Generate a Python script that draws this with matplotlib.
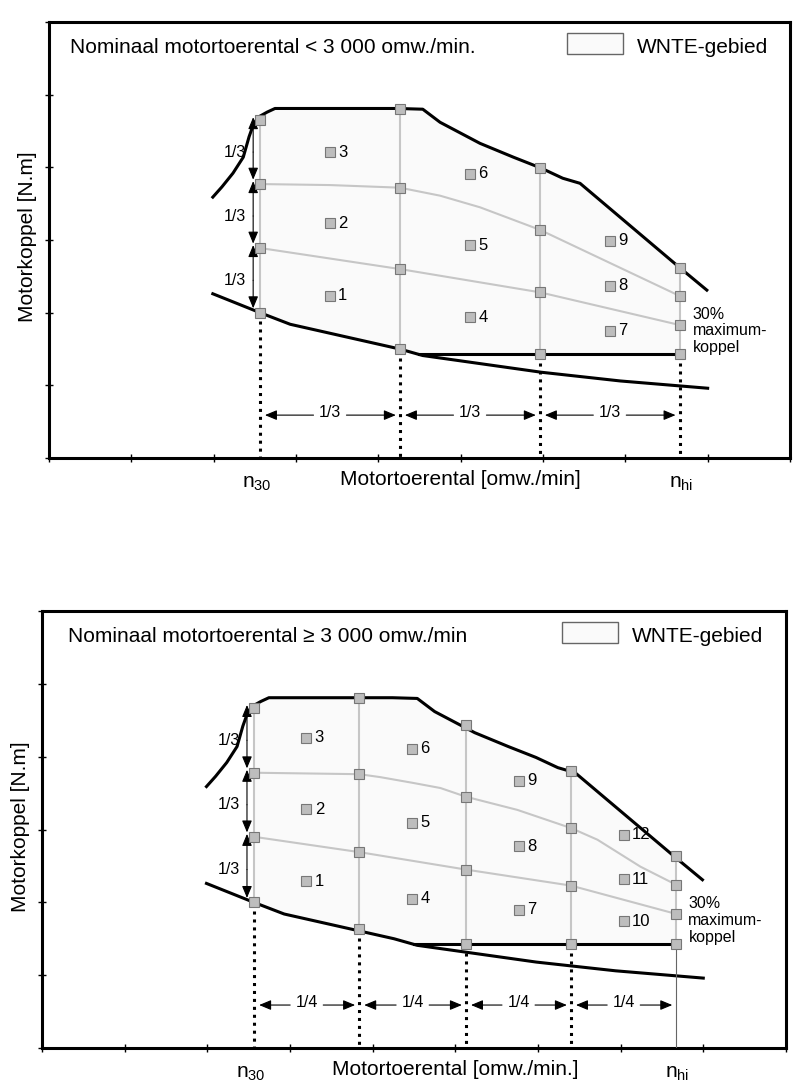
import numpy as np
import matplotlib.pyplot as plt

plt.rcParams['font.family'] = ['Liberation Sans', 'DejaVu Sans']

# shared curves (same shape in both panels)
upper_x = [1.99, 2.10, 2.235, 2.36, 2.43, 2.48, 2.54, 2.65, 2.745, 4.24, 4.54, 4.75, 5.235, 5.64, 5.976, 6.24, 6.45, 7.66, 7.99]
upper_y = [3.59, 3.73, 3.92, 4.14, 4.42, 4.58, 4.69, 4.76, 4.81, 4.81, 4.80, 4.62, 4.33, 4.14, 3.99, 3.85, 3.78, 2.62, 2.31]
lower_x = [1.99, 2.563, 2.93, 4.26, 4.54, 5.98, 6.94, 8.0]
lower_y = [2.26, 2.00, 1.84, 1.50, 1.41, 1.18, 1.06, 0.96]
pct30 = 1.43
knee_x = 4.5

# top panel (< 3000 rpm)
t_cols = [2.563, 4.263, 5.963, 7.66]
t_row0 = [2.00, 1.50, 1.43, 1.43]
t_row1 = [2.89, 2.60, 2.28, 1.83]
t_row2 = [3.77, 3.72, 3.14, 2.23]
t_row3 = [4.65, 4.80, 3.99, 2.62]
t_mid2_x = [2.563, 3.413, 4.263, 4.75, 5.235, 5.963, 7.66]
t_mid2_y = [3.77, 3.756, 3.72, 3.61, 3.45, 3.14, 2.23]
t_mode_x = [3.413, 3.413, 3.413, 5.113, 5.113, 5.113, 6.81, 6.81, 6.81]
t_mode_y = [2.23, 3.23, 4.21, 1.94, 2.93, 3.91, 1.75, 2.37, 2.99]
t_mode_lbl = ['1', '2', '3', '4', '5', '6', '7', '8', '9']

# bottom panel (>= 3000 rpm)
b_cols = [2.567, 3.838, 5.13, 6.40, 7.675]
b_row0 = [2.00, 1.63, 1.43, 1.43, 1.43]
b_row1 = [2.90, 2.69, 2.45, 2.23, 1.84]
b_row2 = [3.78, 3.76, 3.45, 3.02, 2.24]
b_row3 = [4.67, 4.81, 4.44, 3.80, 2.64]
b_mid2_x = [2.567, 3.838, 4.09, 4.49, 4.82, 5.13, 5.75, 6.40, 6.72, 7.24, 7.675]
b_mid2_y = [3.78, 3.76, 3.72, 3.64, 3.57, 3.45, 3.27, 3.02, 2.86, 2.49, 2.24]
b_mode_x = [3.20]*3 + [4.48]*3 + [5.765]*3 + [7.04]*3
b_mode_y = [2.29, 3.28, 4.26, 2.05, 3.09, 4.11, 1.90, 2.77, 3.67, 1.74, 2.32, 2.93]
b_mode_lbl = ['1', '2', '3', '4', '5', '6', '7', '8', '9', '10', '11', '12']

GRAY = '#c6c6c6'
MFC = '#bdbdbd'
MEC = '#777777'
AREA = '#fafafa'


def arrow(ax, x0, y0, x1, y1, style='-|>'):
    ax.annotate('', xy=(x1, y1), xytext=(x0, y0),
                arrowprops=dict(arrowstyle=style + ',head_length=0.6,head_width=0.25',
                                color='k', lw=0.8, mutation_scale=12,
                                shrinkA=0, shrinkB=0))


def panel(ax, cols, row0, row1, row2, row3, mid2_x, mid2_y, mode_x, mode_y, mode_lbl,
          title, xlabel, frac, title_x, last_dotted):
    ax.set_xlim(0, 9)
    ax.set_ylim(0, 6)
    ax.set_xticks(range(10))
    ax.set_yticks(range(7))
    ax.set_xticklabels([])
    ax.set_yticklabels([])
    ax.tick_params(direction='inout', length=6, width=1, top=False, right=False)
    for s in ax.spines.values():
        s.set_linewidth(2.2)

    n30, nhi = cols[0], cols[-1]
    # WNTE area
    ux, uy = np.array(upper_x), np.array(upper_y)
    m = (ux > n30) & (ux < nhi)
    top_x = [n30] + list(ux[m]) + [nhi]
    top_y = [row3[0]] + list(uy[m]) + [row3[-1]]
    lx, ly = np.array(lower_x), np.array(lower_y)
    m2 = (lx > n30) & (ly > pct30)
    bot_x = [nhi, knee_x] + list(lx[m2][::-1]) + [n30]
    bot_y = [pct30, pct30] + list(ly[m2][::-1]) + [row0[0]]
    ax.fill(top_x + bot_x, top_y + bot_y, color=AREA, lw=0, zorder=1)

    # grid lines
    for c, r0, r3 in zip(cols, row0, row3):
        ax.plot([c, c], [r0, r3], color=GRAY, lw=1.5, zorder=2)
    ax.plot(cols, row1, color=GRAY, lw=1.5, zorder=2)
    ax.plot(mid2_x, mid2_y, color=GRAY, lw=1.5, zorder=2)

    # black curves
    ax.plot(upper_x, upper_y, color='k', lw=2.2, zorder=3)
    ax.plot(lower_x, lower_y, color='k', lw=2.2, zorder=3)
    ax.plot([knee_x, nhi], [pct30, pct30], color='k', lw=2.2, zorder=3)

    # grid markers
    for r in (row0, row1, row2, row3):
        ax.plot(cols, r, ls='none', marker='s', ms=6.5, mfc=MFC, mec=MEC, mew=0.8, zorder=4)

    # mode points
    ax.plot(mode_x, mode_y, ls='none', marker='s', ms=7.5, mfc=MFC, mec=MEC, mew=0.8, zorder=4)
    for x, y, t in zip(mode_x, mode_y, mode_lbl):
        ax.text(x + 0.1, y, t, fontsize=12, va='center', ha='left', zorder=5)

    # dotted drop lines
    dcols = cols if last_dotted else cols[:-1]
    drows = row0 if last_dotted else row0[:-1]
    for c, r0 in zip(dcols, drows):
        ax.plot([c, c], [r0 - 0.12, 0], color='k', lw=2.2, ls=(0, (1, 1.6)), zorder=3)
    if not last_dotted:
        ax.plot([nhi, nhi], [row0[-1], 0], color='#666666', lw=0.8, zorder=3)

    # vertical 1/3 arrows
    ncol = [row0[0], row1[0], row2[0], row3[0]]
    for lo, hi in zip(ncol[:-1], ncol[1:]):
        arrow(ax, 2.48, (lo + hi) / 2, 2.48, hi + 0.04)
        arrow(ax, 2.48, (lo + hi) / 2, 2.48, lo + 0.06)
        ax.text(2.26, (lo + hi) / 2, '1/3', fontsize=11.5, ha='center', va='center')

    # horizontal fraction arrows
    for a, b in zip(cols[:-1], cols[1:]):
        mid = (a + b) / 2
        arrow(ax, mid - 0.2, 0.59, a + 0.06, 0.59)
        arrow(ax, mid + 0.2, 0.59, b - 0.05, 0.59)
        ax.text(mid, 0.63, frac, fontsize=11.5, ha='center', va='center')

    ax.text(7.82, 1.75, '30%\nmaximum-\nkoppel', fontsize=11.5, ha='left', va='center',
            linespacing=1.15)

    # header
    ax.text(title_x, 5.58, title, fontsize=15, va='baseline')
    ax.add_patch(plt.Rectangle((6.29, 5.56), 0.68, 0.29, fc=AREA, ec='#666666', lw=1))
    ax.text(7.14, 5.58, 'WNTE-gebied', fontsize=15, va='baseline')

    # axis labels
    ax.text(-0.255, 3.04, 'Motorkoppel [N.m]', fontsize=15, rotation=90,
            ha='center', va='center', clip_on=False)
    ax.text(5.0, -0.30, xlabel, fontsize=15, ha='center', va='center', clip_on=False)
    ax.text(2.52, -0.41, r'$\mathregular{n_{30}}$', fontsize=15, ha='center',
            va='baseline', clip_on=False)
    ax.text(7.68, -0.41, r'$\mathregular{n_{hi}}$', fontsize=15, ha='center',
            va='baseline', clip_on=False)


fig = plt.figure(figsize=(7.95, 10.84), dpi=100)
ax1 = fig.add_axes([0.0616, 0.5775, 0.9321, 0.4022])
ax2 = fig.add_axes([0.0528, 0.0332, 0.9358, 0.4031])

panel(ax1, t_cols, t_row0, t_row1, t_row2, t_row3, t_mid2_x, t_mid2_y,
      t_mode_x, t_mode_y, t_mode_lbl,
      'Nominaal motortoerental < 3 000 omw./min.', 'Motortoerental [omw./min]',
      '1/3', 0.255, True)
panel(ax2, b_cols, b_row0, b_row1, b_row2, b_row3, b_mid2_x, b_mid2_y,
      b_mode_x, b_mode_y, b_mode_lbl,
      'Nominaal motortoerental \u2265 3 000 omw./min', 'Motortoerental [omw./min.]',
      '1/4', 0.315, False)

fig.savefig('out.png', dpi=100)
